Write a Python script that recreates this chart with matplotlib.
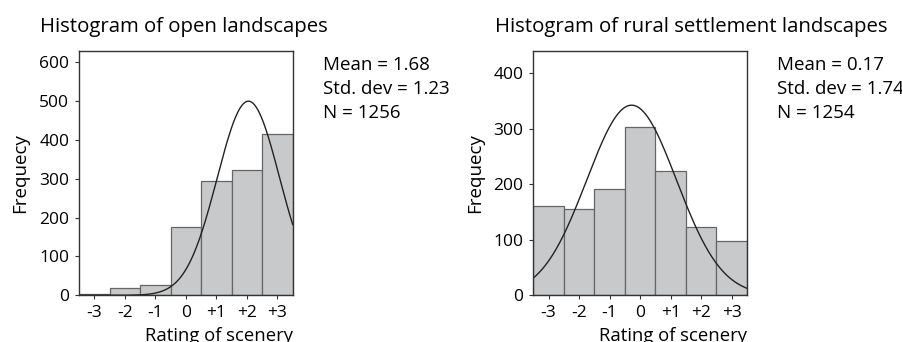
import numpy as np
import matplotlib
matplotlib.use("Agg")
import matplotlib.pyplot as plt

plt.rcParams['font.family'] = ['Open Sans', 'DejaVu Sans']

ratings = [-3, -2, -1, 0, 1, 2, 3]
tick_labels = ["-3", "-2", "-1", "0", "+1", "+2", "+3"]

open_counts = [3, 18, 27, 175, 295, 322, 416]
rural_counts = [160, 155, 191, 303, 224, 123, 98]

open_stats = ["Mean = 1.68", "Std. dev = 1.23", "N = 1256"]
rural_stats = ["Mean = 0.17", "Std. dev = 1.74", "N = 1254"]

# normal curve parameters as drawn (centre, peak height, width)
open_curve = (2.05, 500, 1.02)
rural_curve = (-0.28, 342, 1.47)

titles = ["Histogram of open landscapes", "Histogram of rural settlement landscapes"]
ylims = [630, 440]
yticks = [[0, 100, 200, 300, 400, 500, 600], [0, 100, 200, 300, 400]]

fig = plt.figure(figsize=(9.03, 3.42), dpi=100)

panels = [
    (79, open_counts, open_curve, open_stats, titles[0], 40, 323),
    (533.3, rural_counts, rural_curve, rural_stats, titles[1], 495, 777),
]
W, H = 903, 342
for i, (x0, counts, curve, stats, title, tx, sx) in enumerate(panels):
    ax = fig.add_axes([x0 / W, 1 - 295.3 / H, 213.7 / W, 244.6 / H])
    ax.bar(ratings, counts, width=1.0, color='#c8c9cb', edgecolor='#666666', linewidth=0.9)
    xs = np.linspace(-3.5, 3.5, 300)
    c, pk, s = curve
    ax.plot(xs, pk * np.exp(-(xs - c) ** 2 / (2 * s ** 2)), color='#222222', linewidth=1.0)
    ax.set_xlim(-3.5, 3.5)
    ax.set_ylim(0, ylims[i])
    ax.set_xticks(ratings)
    ax.set_xticklabels(tick_labels)
    ax.set_yticks(yticks[i])
    ax.tick_params(axis='both', direction='out', length=3, width=0.8, labelsize=12.5, color='#333333', pad=4)
    for sp in ax.spines.values():
        sp.set_linewidth(1.0)
        sp.set_color('#333333')
    ax.set_xlabel("Rating of scenery", fontsize=13.3, loc='right', labelpad=4)
    ax.set_ylabel("Frequecy", fontsize=13.5, labelpad=7)
    fig.text(tx / W, 1 - 32 / H, title, fontsize=14.7, ha='left', va='baseline')
    for j, line in enumerate(stats):
        fig.text(sx / W, 1 - (70 + 24 * j) / H, line, fontsize=13.5, ha='left', va='baseline')

fig.savefig("out.png", dpi=100)
